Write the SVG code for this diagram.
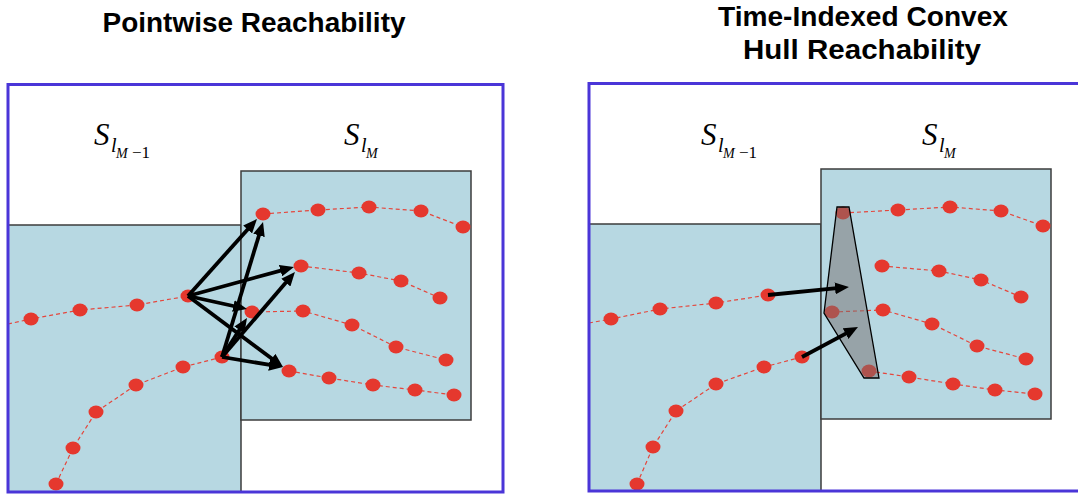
<svg xmlns="http://www.w3.org/2000/svg" width="1078" height="496" viewBox="0 0 1078 496">
<style>
.title{font-family:"Liberation Sans",Arial,sans-serif;font-weight:bold;font-size:27px;fill:#000}
.lbl{font-family:"Liberation Serif","DejaVu Serif",serif;font-style:italic;fill:#000}
.region{fill:#b7d8e2;stroke:#3c3c3c;stroke-width:1.5}
.frame{fill:none;stroke:#4a35d8;stroke-width:3}
.traj{fill:none;stroke:#e5463c;stroke-width:1.2;stroke-dasharray:4 3}
.dot{fill:#e5382e}
.arrow{stroke:#000;stroke-width:3.8;fill:none;marker-end:url(#ah)}
.hull{fill:#776d6d;fill-opacity:0.5;stroke:#000;stroke-width:1.3}
</style>
<defs>
<marker id="ah" markerUnits="userSpaceOnUse" markerWidth="14" markerHeight="12" refX="7" refY="6" orient="auto"><path d="M0,0 L14,6 L0,12 z" fill="#000"/></marker>
</defs>
<rect width="1078" height="496" fill="#fff"/>

<g id="title-left"><text class="title" x="254" y="32" text-anchor="middle" textLength="303" lengthAdjust="spacingAndGlyphs">Pointwise Reachability</text></g>
<g id="title-right">
<text class="title" x="863" y="26" text-anchor="middle" textLength="290" lengthAdjust="spacingAndGlyphs">Time-Indexed Convex</text>
<text class="title" x="862" y="59" text-anchor="middle" textLength="238" lengthAdjust="spacingAndGlyphs">Hull Reachability</text>
</g>

<!-- LEFT PANEL -->
<g id="left-panel">
<g id="left-region-prev"><rect class="region" x="8" y="225" width="233" height="267"/></g>
<g id="left-region-cur"><rect class="region" x="241" y="171" width="230" height="249"/></g>
<g id="left-label-prev"><text class="lbl"><tspan x="94" y="145" font-size="31">S</tspan><tspan x="111" y="152" font-size="20">l</tspan><tspan x="116" y="157.5" font-size="14">M</tspan><tspan x="132" y="157.5" font-size="17" font-style="normal">−1</tspan></text></g>
<g id="left-label-cur"><text class="lbl"><tspan x="344" y="145" font-size="31">S</tspan><tspan x="361" y="152" font-size="20">l</tspan><tspan x="366" y="157.5" font-size="14">M</tspan></text></g>
<g id="left-trajectories">
<polyline class="traj" points="8,324 31,319 80,310 137,305 188,296"/>
<polyline class="traj" points="56,484 73,448 96,412 136,385 183,367 222,357"/>
<polyline class="traj" points="263,214 318,210 369,207 421,211 463,227"/>
<polyline class="traj" points="301,266 359,273 401,281 440,298"/>
<polyline class="traj" points="252,312 303,311 352,325 396,347 446,360"/>
<polyline class="traj" points="289,371 329,378 373,385 415,390 454,395"/>
</g>
<g id="left-dots">
<ellipse class="dot" cx="31" cy="319" rx="7.5" ry="6.5"/><ellipse class="dot" cx="80" cy="310" rx="7.5" ry="6.5"/><ellipse class="dot" cx="137" cy="305" rx="7.5" ry="6.5"/><ellipse class="dot" cx="188" cy="296" rx="7.5" ry="6.5"/>
<ellipse class="dot" cx="56" cy="484" rx="7.5" ry="6.5"/><ellipse class="dot" cx="73" cy="448" rx="7.5" ry="6.5"/><ellipse class="dot" cx="96" cy="412" rx="7.5" ry="6.5"/><ellipse class="dot" cx="136" cy="385" rx="7.5" ry="6.5"/><ellipse class="dot" cx="183" cy="367" rx="7.5" ry="6.5"/><ellipse class="dot" cx="222" cy="357" rx="7.5" ry="6.5"/>
<ellipse class="dot" cx="263" cy="214" rx="7.5" ry="6.5"/><ellipse class="dot" cx="318" cy="210" rx="7.5" ry="6.5"/><ellipse class="dot" cx="369" cy="207" rx="7.5" ry="6.5"/><ellipse class="dot" cx="421" cy="211" rx="7.5" ry="6.5"/><ellipse class="dot" cx="463" cy="227" rx="7.5" ry="6.5"/>
<ellipse class="dot" cx="301" cy="266" rx="7.5" ry="6.5"/><ellipse class="dot" cx="359" cy="273" rx="7.5" ry="6.5"/><ellipse class="dot" cx="401" cy="281" rx="7.5" ry="6.5"/><ellipse class="dot" cx="440" cy="298" rx="7.5" ry="6.5"/>
<ellipse class="dot" cx="252" cy="312" rx="7.5" ry="6.5"/><ellipse class="dot" cx="303" cy="311" rx="7.5" ry="6.5"/><ellipse class="dot" cx="352" cy="325" rx="7.5" ry="6.5"/><ellipse class="dot" cx="396" cy="347" rx="7.5" ry="6.5"/><ellipse class="dot" cx="446" cy="360" rx="7.5" ry="6.5"/>
<ellipse class="dot" cx="289" cy="371" rx="7.5" ry="6.5"/><ellipse class="dot" cx="329" cy="378" rx="7.5" ry="6.5"/><ellipse class="dot" cx="373" cy="385" rx="7.5" ry="6.5"/><ellipse class="dot" cx="415" cy="390" rx="7.5" ry="6.5"/><ellipse class="dot" cx="454" cy="395" rx="7.5" ry="6.5"/>
</g>
<g id="left-connectors">
<line class="arrow" x1="188" y1="296" x2="252.3" y2="224.2"/>
<line class="arrow" x1="188" y1="296" x2="287.2" y2="268.8"/>
<line class="arrow" x1="188" y1="296" x2="240.2" y2="307.5"/>
<line class="arrow" x1="188" y1="296" x2="277.4" y2="362.8"/>
<line class="arrow" x1="222" y1="357" x2="261.0" y2="228.7"/>
<line class="arrow" x1="222" y1="357" x2="290.4" y2="277.3"/>
<line class="arrow" x1="222" y1="357" x2="243.2" y2="323.9"/>
<line class="arrow" x1="222" y1="357" x2="276.1" y2="365.9"/>
</g>
<g id="left-frame"><rect class="frame" x="8" y="84.5" width="495" height="407.5"/></g>
</g>

<!-- RIGHT PANEL -->
<g id="right-panel">
<g id="right-region-prev"><rect class="region" x="589" y="224" width="232" height="267"/></g>
<g id="right-region-cur"><rect class="region" x="821" y="169" width="230" height="250"/></g>
<g id="right-label-prev"><text class="lbl"><tspan x="701" y="145" font-size="31">S</tspan><tspan x="718" y="152" font-size="20">l</tspan><tspan x="723" y="157.5" font-size="14">M</tspan><tspan x="739" y="157.5" font-size="17" font-style="normal">−1</tspan></text></g>
<g id="right-label-cur"><text class="lbl"><tspan x="922" y="145" font-size="31">S</tspan><tspan x="939" y="152" font-size="20">l</tspan><tspan x="944" y="157.5" font-size="14">M</tspan></text></g>
<g id="right-trajectories">
<polyline class="traj" points="589,323 611,319 660,309 716,303 768,295"/>
<polyline class="traj" points="637,484 653,447 676,411 716,384 764,367 802,357"/>
<polyline class="traj" points="843,213 898,210 950,207 1001,211 1043,226"/>
<polyline class="traj" points="882,266 939,271 981,280 1021,297"/>
<polyline class="traj" points="832,312 883,310 932,324 977,346 1026,359"/>
<polyline class="traj" points="869,371 909,377 953,384 995,390 1035,394"/>
</g>
<g id="right-dots">
<ellipse class="dot" cx="611" cy="319" rx="7.5" ry="6.5"/><ellipse class="dot" cx="660" cy="309" rx="7.5" ry="6.5"/><ellipse class="dot" cx="716" cy="303" rx="7.5" ry="6.5"/><ellipse class="dot" cx="768" cy="295" rx="7.5" ry="6.5"/>
<ellipse class="dot" cx="637" cy="484" rx="7.5" ry="6.5"/><ellipse class="dot" cx="653" cy="447" rx="7.5" ry="6.5"/><ellipse class="dot" cx="676" cy="411" rx="7.5" ry="6.5"/><ellipse class="dot" cx="716" cy="384" rx="7.5" ry="6.5"/><ellipse class="dot" cx="764" cy="367" rx="7.5" ry="6.5"/><ellipse class="dot" cx="802" cy="357" rx="7.5" ry="6.5"/>
<ellipse class="dot" cx="843" cy="213" rx="7.5" ry="6.5"/><ellipse class="dot" cx="898" cy="210" rx="7.5" ry="6.5"/><ellipse class="dot" cx="950" cy="207" rx="7.5" ry="6.5"/><ellipse class="dot" cx="1001" cy="211" rx="7.5" ry="6.5"/><ellipse class="dot" cx="1043" cy="226" rx="7.5" ry="6.5"/>
<ellipse class="dot" cx="882" cy="266" rx="7.5" ry="6.5"/><ellipse class="dot" cx="939" cy="271" rx="7.5" ry="6.5"/><ellipse class="dot" cx="981" cy="280" rx="7.5" ry="6.5"/><ellipse class="dot" cx="1021" cy="297" rx="7.5" ry="6.5"/>
<ellipse class="dot" cx="832" cy="312" rx="7.5" ry="6.5"/><ellipse class="dot" cx="883" cy="310" rx="7.5" ry="6.5"/><ellipse class="dot" cx="932" cy="324" rx="7.5" ry="6.5"/><ellipse class="dot" cx="977" cy="346" rx="7.5" ry="6.5"/><ellipse class="dot" cx="1026" cy="359" rx="7.5" ry="6.5"/>
<ellipse class="dot" cx="869" cy="371" rx="7.5" ry="6.5"/><ellipse class="dot" cx="909" cy="377" rx="7.5" ry="6.5"/><ellipse class="dot" cx="953" cy="384" rx="7.5" ry="6.5"/><ellipse class="dot" cx="995" cy="390" rx="7.5" ry="6.5"/><ellipse class="dot" cx="1035" cy="394" rx="7.5" ry="6.5"/>
</g>
<g id="convex-hull"><polygon class="hull" points="837,207 849,207 879,378 864,378 824,313"/></g>
<g id="right-connectors">
<line class="arrow" x1="768" y1="295" x2="842.0" y2="287.7"/>
<line class="arrow" x1="802" y1="357" x2="851.8" y2="330.3"/>
</g>
<g id="right-frame"><rect class="frame" x="589" y="83.5" width="495" height="407.5"/></g>
</g>
</svg>
